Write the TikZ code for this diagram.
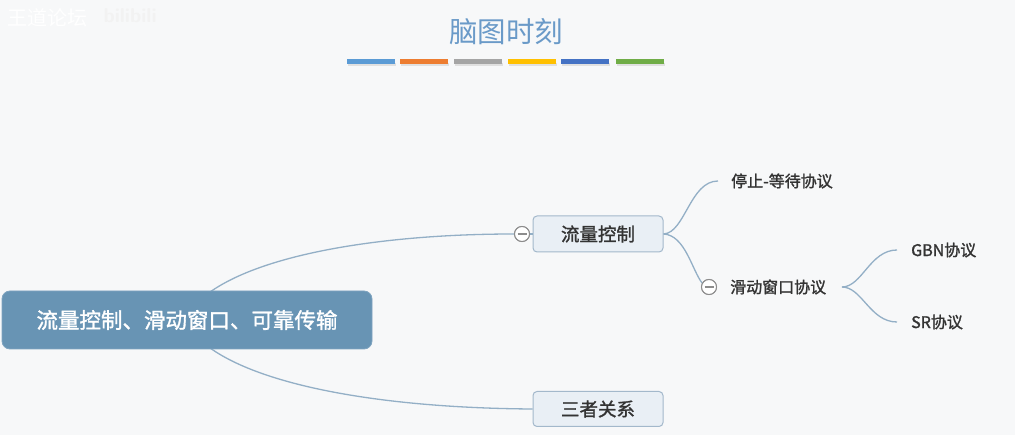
\documentclass[tikz,border=0pt]{standalone}
\usepackage{fontspec}
\setmainfont{Noto Sans CJK SC}
\newfontfamily\cjk{Noto Sans CJK SC}
\newfontfamily\cjkb[FakeBold=1.4]{Noto Sans CJK SC}
\definecolor{bgc}{HTML}{F7F8F9}
\definecolor{titlec}{HTML}{6A9AC8}
\definecolor{linec}{HTML}{93AFC6}
\definecolor{rootc}{HTML}{6894B4}
\definecolor{rootb}{HTML}{7FA4C0}
\definecolor{subf}{HTML}{E9EFF5}
\definecolor{subb}{HTML}{A3B8CB}
\definecolor{txt}{HTML}{333333}
\definecolor{cbl}{HTML}{5B9BD5}
\definecolor{cor}{HTML}{ED7D31}
\definecolor{cgr}{HTML}{A5A5A5}
\definecolor{cye}{HTML}{FFC000}
\definecolor{cdb}{HTML}{4472C4}
\definecolor{cgn}{HTML}{70AD47}
\definecolor{circc}{HTML}{8C8C8C}
\begin{document}
\begin{tikzpicture}[x=1pt,y=-1pt,
  conn/.style={draw=linec,line width=1.3pt},
  rootbox/.style={draw=rootb,fill=rootc,rounded corners=8pt,line width=0.8pt,minimum width=370pt,minimum height=58pt,text=white,font=\cjkb\fontsize{21.5}{24}\selectfont},
  subbox/.style={draw=subb,fill=subf,rounded corners=4pt,line width=1pt,minimum width=130pt,minimum height=36pt,text=txt,font=\cjkb\fontsize{18.5}{20}\selectfont},
  leaf/.style={anchor=west,inner sep=0pt,text=txt,font=\cjkb\fontsize{16}{18}\selectfont},
  collapse/.style={circle,draw=circc,fill=white,line width=1pt,minimum size=15pt,inner sep=0pt},
  bar/.style={line width=5pt},
  barshadow/.style={line width=3pt,draw=black!12}
]
\useasboundingbox (0,0) rectangle (1015,435);
\fill[bgc] (0,0) rectangle (1015,435);

% watermark
\node[anchor=west,text=white,font=\cjk\fontsize{20}{22}\selectfont] (wm) at (4,18) {王道论坛};
\node[anchor=west,text=gray!10,font=\sffamily\bfseries\fontsize{20}{22}\selectfont] (wm2) at (100,16) {bilibili};

% title
\node[text=titlec,font=\cjk\fontsize{28.5}{32}\selectfont] (title) at (506,32) {脑图时刻};
\foreach \a/\b in {347/395,400/448,454/502,508/556,561/609,616/664}
  \draw[barshadow] (\a+1,65) -- (\b+1,65);
\draw[bar,cbl] (347,62) -- (395,62);
\draw[bar,cor] (400,62) -- (448,62);
\draw[bar,cgr] (454,62) -- (502,62);
\draw[bar,cye] (508,62) -- (556,62);
\draw[bar,cdb] (561,62) -- (609,62);
\draw[bar,cgn] (616,62) -- (664,62);

% coordinates / nodes
\coordinate (rs1) at (200,300);
\coordinate (rs2) at (200,340);
\node[collapse] (c1) at (522,234) {};
\node[subbox] (flow) at (598,234) {流量控制};
\node[subbox,minimum height=35pt] (three) at (598,409) {三者关系};
\node[leaf] (stop) at (731,181) {停止-等待协议};
\node[collapse] (c2) at (709,287) {};
\node[leaf] (slide) at (730,287) {滑动窗口协议};
\node[leaf] (gbn) at (911,250) {GBN协议};
\node[leaf] (sr) at (911,322) {SR协议};
\coordinate (gbnin) at (897,250);
\coordinate (srin) at (897,322);
\coordinate (stopin) at (718,181);
\coordinate (slout) at (842,287);

% connectors
\draw[conn] (rs1) .. controls (250,255) and (380,234) .. (c1.west);
\draw[conn] (c1.east) -- (flow.west);
\draw[conn] (rs2) .. controls (250,385) and (380,408) .. (three.west);
\draw[conn] (flow.east) .. controls (685,233) and (690,181) .. (stopin);
\draw[conn] (flow.east) .. controls (685,235) and (692,270) .. (c2.150);
\draw[conn] (slout) .. controls (862,287) and (870,250) .. (gbnin);
\draw[conn] (slout) .. controls (862,287) and (870,322) .. (srin);

% redraw circles on top
\node[collapse] at (c1) {};
\draw[circc,line width=1.1pt] ([xshift=-4.5pt]c1.center) -- ([xshift=4.5pt]c1.center);
\node[collapse] at (c2) {};
\draw[circc,line width=1.1pt] ([xshift=-4.5pt]c2.center) -- ([xshift=4.5pt]c2.center);

% root
\node[rootbox] (root) at (187,320) {流量控制、滑动窗口、可靠传输};
\end{tikzpicture}
\end{document}
